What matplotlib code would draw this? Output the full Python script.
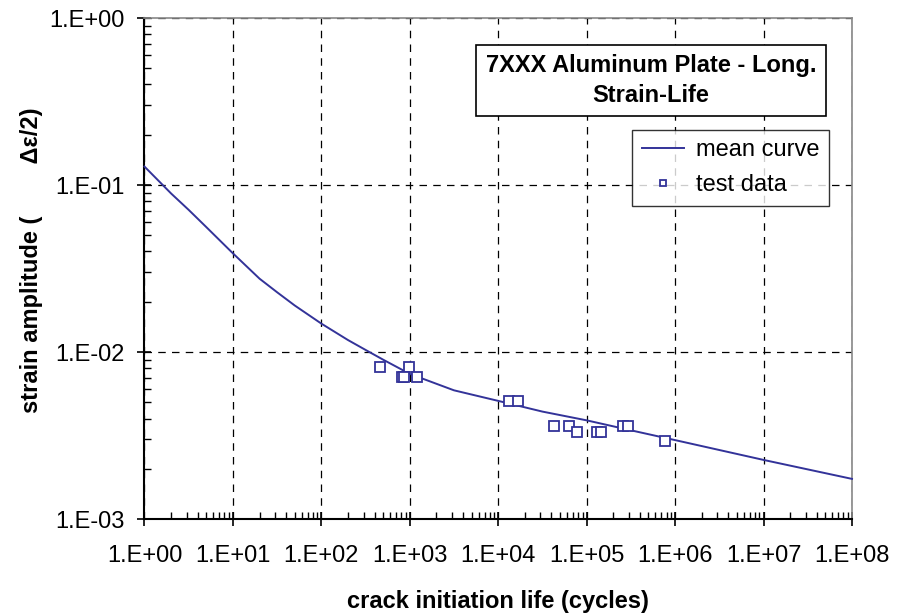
import matplotlib
matplotlib.use("Agg")
import matplotlib.pyplot as plt
from matplotlib.ticker import LogLocator, FixedLocator, NullFormatter

plt.rcParams['font.family'] = ['Liberation Sans', 'DejaVu Sans']

# mean curve (cycles, strain amplitude)
curve_n = [1, 2, 3.16, 5, 10, 20, 31.6, 50, 100, 200, 316, 500, 1e3, 3.16e3,
           1e4, 3.16e4, 1e5, 3.16e5, 1e6, 1e7, 1e8]
curve_eps = [0.129, 0.089, 0.071, 0.056, 0.039, 0.0275, 0.0228, 0.0190, 0.0148,
             0.0118, 0.0103, 0.0090, 0.0074, 0.0059, 0.0051, 0.0044, 0.0039,
             0.0034, 0.00297, 0.00226, 0.00174]

# test data
test_n = [461, 982, 813, 870, 1200, 13300, 16700, 42900, 63800, 78700,
          130000, 146000, 257000, 292000, 767000]
test_eps = [0.0081, 0.0081, 0.0071, 0.0071, 0.0071, 0.0051, 0.0051, 0.0036,
            0.0036, 0.00332, 0.00332, 0.00332, 0.0036, 0.0036, 0.00292]

xticks = [10.0 ** k for k in range(0, 9)]
yticks = [1e-3, 1e-2, 1e-1, 1e0]
xlabels = ['1.E+%02d' % k for k in range(0, 9)]
ylabels = ['1.E-03', '1.E-02', '1.E-01', '1.E+00']

blue = '#333399'
fs = 17

fig = plt.figure(figsize=(9.03, 6.15), dpi=100)
ax = fig.add_axes([0.160, 0.156, 0.7835, 0.8147])

ax.plot(curve_n, curve_eps, color=blue, lw=1.4, label='mean curve', zorder=3,
        clip_on=False)
ax.plot(test_n, test_eps, ls='none', marker='s', ms=7.5, mfc='white', mec=blue,
        mew=1.3, label='test data', zorder=4)

ax.set_xscale('log')
ax.set_yscale('log')
ax.set_xlim(1, 1e8)
ax.set_ylim(1e-3, 1)

ax.xaxis.set_major_locator(FixedLocator(xticks))
ax.yaxis.set_major_locator(FixedLocator(yticks))
ax.set_xticklabels(xlabels)
ax.set_yticklabels(ylabels)
ax.xaxis.set_minor_locator(LogLocator(base=10, subs=range(2, 10), numticks=20))
ax.yaxis.set_minor_locator(LogLocator(base=10, subs=range(2, 10), numticks=20))
ax.xaxis.set_minor_formatter(NullFormatter())
ax.yaxis.set_minor_formatter(NullFormatter())

ax.tick_params(which='major', direction='inout', length=10, width=1.2,
               labelsize=fs, color='black')
ax.tick_params(axis='x', which='major', pad=14)
ax.tick_params(axis='y', which='major', pad=9)
ax.tick_params(which='minor', direction='in', length=5, width=1.0, color='black')
ax.tick_params(top=False, right=False, which='both')

ax.grid(True, which='major', color='black', ls=(0, (6, 5)), lw=0.9)

for s in ['left', 'bottom']:
    ax.spines[s].set_color('black')
    ax.spines[s].set_linewidth(1.5)
for s in ['top', 'right']:
    ax.spines[s].set_color('#888888')
    ax.spines[s].set_linewidth(1.2)

ax.set_xlabel('crack initiation life (cycles)', fontsize=fs, fontweight='bold',
              labelpad=16)
ax.set_ylabel('strain amplitude (        \u0394\u03b5/2)', fontsize=fs,
              fontweight='bold')
ax.yaxis.set_label_coords(-0.1435, 0.517)

ax.text(0.716, 0.875, '7XXX Aluminum Plate - Long.\nStrain-Life',
        transform=ax.transAxes, ha='center', va='center', fontsize=fs,
        fontweight='bold', linespacing=1.35, zorder=5,
        bbox=dict(boxstyle='square,pad=0.4', fc='white', ec='black', lw=1.2))

leg = ax.legend(loc='upper right', bbox_to_anchor=(0.9675, 0.7764), fontsize=fs,
                frameon=True, fancybox=False, edgecolor='black',
                handlelength=1.8, handletextpad=0.5, borderpad=0.4,
                labelspacing=0.55, markerscale=0.6, borderaxespad=0)
leg.get_frame().set_linewidth(1.0)

fig.savefig('out.png', dpi=100)
